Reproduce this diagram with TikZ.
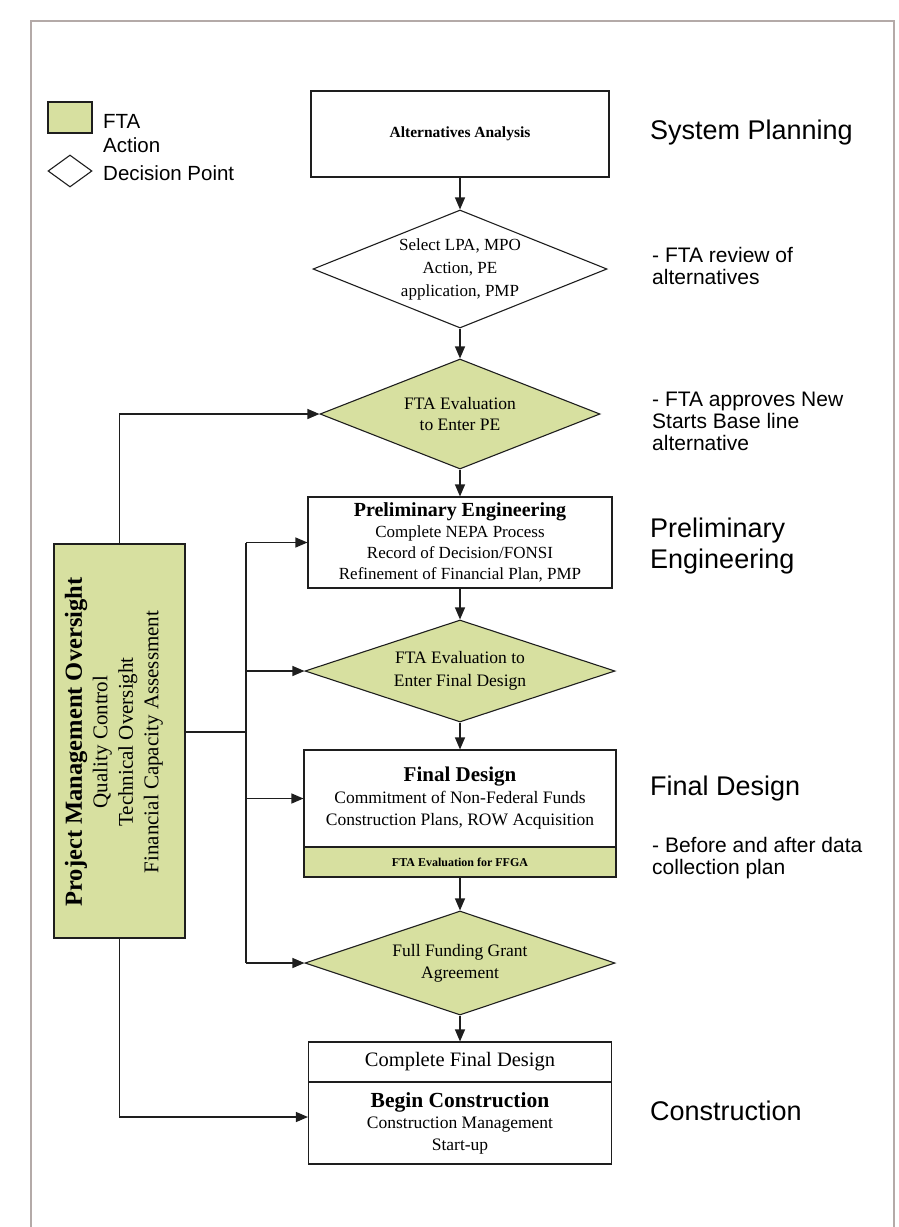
\documentclass[tikz,border=0pt]{standalone}
\usepackage{fontspec}
\setmainfont{Liberation Serif}
\newfontfamily\sansf{Liberation Sans}
\usetikzlibrary{shapes.geometric,arrows.meta}
\definecolor{ftagreen}{HTML}{D7E0A0}
\definecolor{framegray}{HTML}{B4AAA8}
\definecolor{ink}{HTML}{1E1E1E}
\begin{document}
\begin{tikzpicture}[x=1pt,y=-1pt,
  box/.style={draw=ink, line width=1.1pt, fill=white, inner sep=0pt, align=center},
  gbox/.style={box, fill=ftagreen},
  dia/.style={diamond, draw=ink, line width=1.1pt, inner sep=0pt, align=center, aspect=2.6},
  wdia/.style={dia, fill=white},
  gdia/.style={dia, fill=ftagreen},
  arr/.style={draw=ink, line width=1.2pt, -{Triangle[length=12pt,width=10pt]}},
  conn/.style={draw=ink, line width=1.2pt},
  note/.style={font=\sansf\fontsize{21}{22}\selectfont, anchor=west, align=left, inner sep=0pt},
  phasetitle/.style={font=\sansf\fontsize{27}{31}\selectfont, anchor=west, align=left, inner sep=0pt},
  legtxt/.style={font=\sansf\fontsize{20.5}{24}\selectfont, anchor=west, align=left, inner sep=0pt},
]
\useasboundingbox (0,0) rectangle (898,1227);
\draw[framegray, line width=1.8pt] (31,1227) -- (31,21) -- (894,21) -- (894,1227);

% legend
\node[gbox, minimum width=44, minimum height=31] (lgb) at (70,117.5) {};
\node[legtxt] (lgbt) at (103,134) {FTA\\Action};
\node[dia, fill=white, aspect=1.4, minimum width=44, minimum height=32] (lgd) at (70,171) {};
\node[legtxt] (lgdt) at (103,173) {Decision Point};

% main column
\node[box, minimum width=298, minimum height=86, font=\bfseries\fontsize{15.5}{18}\selectfont] (aa) at (460,134) {Alternatives Analysis};
\node[wdia, minimum width=294, minimum height=118, font=\fontsize{17}{23}\selectfont] (d1) at (460,269) {Select LPA, MPO\\Action, PE\\application, PMP};
\node[gdia, minimum width=280, minimum height=110, font=\fontsize{17.5}{21}\selectfont] (d2) at (460,414) {FTA Evaluation\\to Enter PE};
\node[box, minimum width=304, minimum height=91, font=\fontsize{17}{21}\selectfont] (pe) at (460,542.5) {{\bfseries\fontsize{20}{21}\selectfont Preliminary Engineering}\\Complete NEPA Process\\Record of Decision/FONSI\\Refinement of Financial Plan, PMP};
\node[gdia, minimum width=310, minimum height=102, font=\fontsize{17.5}{23}\selectfont] (d3) at (460,671) {FTA Evaluation to\\Enter Final Design};
\node[box, minimum width=312, minimum height=97, font=\fontsize{17.5}{22}\selectfont] (fd) at (460,798.5) {{\bfseries\fontsize{21}{22}\selectfont Final Design}\\Commitment of Non-Federal Funds\\Construction Plans, ROW Acquisition};
\node[gbox, minimum width=312, minimum height=30, font=\bfseries\fontsize{12}{14}\selectfont] (fdg) at (460,862) {FTA Evaluation for FFGA};
\node[gdia, minimum width=310, minimum height=104, font=\fontsize{17.5}{22}\selectfont] (d4) at (460,963) {Full Funding Grant\\Agreement};
\node[box, minimum width=303, minimum height=40, font=\fontsize{20.5}{22}\selectfont] (cfd) at (460,1062) {Complete Final Design};
\node[box, minimum width=303, minimum height=82, font=\fontsize{17.5}{21.5}\selectfont] (bc) at (460,1123) {{\bfseries\fontsize{21.5}{22}\selectfont Begin Construction}\\Construction Management\\Start-up};

% PMO box
\node[gbox, minimum width=131, minimum height=394] (pmo) at (119.5,741) {};
\node[rotate=90, align=center, inner sep=0pt, font=\fontsize{21}{25.5}\selectfont] (pmotxt) at (114,742) {{\bfseries\fontsize{24.5}{26}\selectfont Project Management Oversight}\\Quality Control\\Technical Oversight\\Financial Capacity Assessment};

% right-hand labels
\node[phasetitle] (spt) at (650,133) {System Planning};
\node[note] (n1) at (652,266) {- FTA review of\\alternatives};
\node[note] (n2) at (652,421) {- FTA approves New\\Starts Base line\\alternative};
\node[phasetitle] (pet) at (650,546) {Preliminary\\Engineering};
\node[phasetitle] (fdt) at (650,789) {Final Design};
\node[note] (n3) at (652,858) {- Before and after data\\collection plan};
\node[phasetitle] (ctt) at (650,1111) {Construction};

% main flow arrows
\draw[arr] (aa.south) -- (d1.north);
\draw[arr] (d1.south) -- (d2.north);
\draw[arr] (d2.south) -- (pe.north);
\draw[arr] (pe.south) -- (d3.north);
\draw[arr] (d3.south) -- (fd.north);
\draw[arr] (fdg.south) -- (d4.north);
\draw[arr] (d4.south) -- (cfd.north);

% oversight connectors
\coordinate (busx) at (246,0);
\draw[arr] (pmo.north) |- (d2.west);
\draw[conn] (pe.west -| busx) -- (d4.west -| busx);
\draw[conn] ([yshift=9pt]pmo.east) -- ([yshift=9pt]pmo.east -| busx);
\draw[arr] (pe.west -| busx) -- (pe.west);
\draw[arr] (d3.west -| busx) -- (d3.west);
\draw[arr] (fd.west -| busx) -- (fd.west);
\draw[arr] (d4.west -| busx) -- (d4.west);
\draw[arr] (pmo.south) |- ([yshift=6pt]bc.west);
\end{tikzpicture}
\end{document}
